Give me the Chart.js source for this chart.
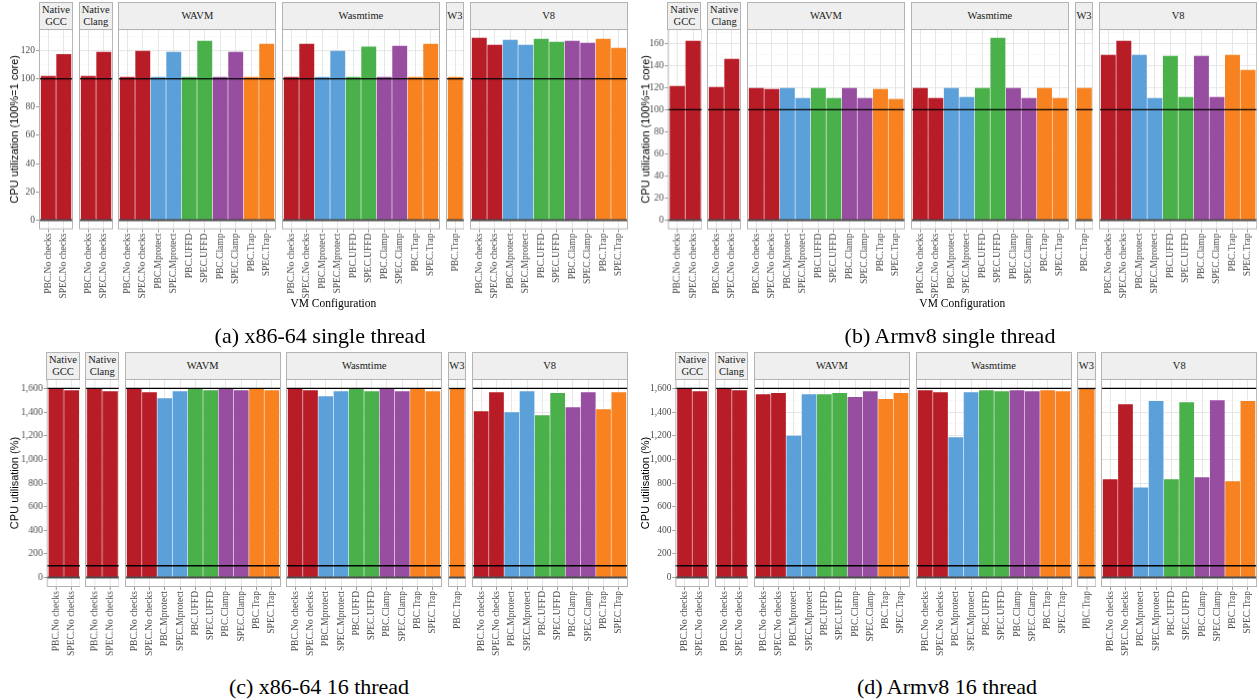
<!DOCTYPE html>
<html>
<head>
<meta charset="utf-8">
<script src="https://cdn.jsdelivr.net/npm/chart.js@4.4.1/dist/chart.umd.min.js"></script>
<style>
  body { margin: 0; background: #fff; width: 1259px; height: 700px; position: relative; overflow: hidden; font-family: "Liberation Serif", serif; }
  .strip { position: absolute; box-sizing: border-box; border: 1px solid #b3b3b3; background: #eeefee; color: #1a1a1a; font-size: 10.5px; line-height: 12px; display: flex; align-items: center; justify-content: center; text-align: center; white-space: pre; }
  .plot { position: absolute; }
  .label { position: absolute; transform: translate(-50%, -50%); white-space: nowrap; color: #000; }
  .caption { font-size: 22px; }
  .xtitle { font-size: 11.5px; }
</style>
</head>
<body>
<script>
const Chart = window.Chart;

// ======================
// CATEGORIES
// ======================

const vmConfigs = ["PBC.No checks", "SPEC.No checks", "PBC.Mprotect", "SPEC.Mprotect", "PBC.UFFD", "SPEC.UFFD", "PBC.Clamp", "SPEC.Clamp", "PBC.Trap", "SPEC.Trap"];
const nativeConfigs = ["PBC.No checks", "SPEC.No checks"];
const w3Configs = ["PBC.Trap"];

const facetNames = ["Native\nGCC", "Native\nClang", "WAVM", "Wasmtime", "W3", "V8"];
const facetConfigs = [nativeConfigs, nativeConfigs, vmConfigs, vmConfigs, w3Configs, vmConfigs];

const mechanisms = ["No checks", "Mprotect", "UFFD", "Clamp", "Trap"];
const mechanismColors = ["#b71c27", "#5ca0d9", "#4ab04a", "#984ea0", "#f7821f"];

// ======================
// (a) x86-64 single thread
// ======================
const x86SingleGCC = [101.9, 117.3];
const x86SingleClang = [101.9, 118.9];
const x86SingleWAVM = [101.2, 119.6, 101.2, 118.9, 101.2, 126.7, 101.2, 118.9, 101.2, 124.6];
const x86SingleWasmtime = [101.2, 124.6, 101.2, 119.6, 101.2, 122.5, 101.2, 123.2, 101.2, 124.6];
const x86SingleW3 = [101.2];
const x86SingleV8 = [128.8, 123.9, 127.4, 123.9, 128.1, 126.0, 126.7, 125.3, 128.1, 121.7];

// ======================
// (b) Armv8 single thread
// ======================
const armSingleGCC = [121.1, 161.9];
const armSingleClang = [120.2, 145.6];
const armSingleWAVM = [119.3, 118.4, 119.3, 110.3, 119.3, 110.3, 119.3, 110.3, 118.4, 109.4];
const armSingleWasmtime = [119.3, 110.3, 119.3, 111.2, 119.3, 164.7, 119.3, 110.3, 119.3, 110.3];
const armSingleW3 = [119.3];
const armSingleV8 = [149.2, 161.9, 149.2, 110.3, 148.3, 111.2, 148.3, 111.2, 149.2, 135.6];

// ======================
// (c) x86-64 16 thread
// ======================
const x86MultiGCC = [1600, 1583];
const x86MultiClang = [1600, 1574];
const x86MultiWAVM = [1600, 1566, 1515, 1574, 1600, 1583, 1600, 1583, 1600, 1583];
const x86MultiWasmtime = [1600, 1583, 1532, 1574, 1600, 1574, 1600, 1574, 1600, 1574];
const x86MultiW3 = [1600];
const x86MultiV8 = [1405, 1566, 1396, 1574, 1371, 1558, 1439, 1566, 1422, 1566];

// ======================
// (d) Armv8 16 thread
// ======================
const armMultiGCC = [1600, 1574];
const armMultiClang = [1600, 1583];
const armMultiWAVM = [1549, 1558, 1196, 1549, 1549, 1558, 1524, 1574, 1507, 1558];
const armMultiWasmtime = [1583, 1566, 1184, 1566, 1583, 1574, 1583, 1574, 1583, 1574];
const armMultiW3 = [1592];
const armMultiV8 = [828, 1464, 760, 1490, 828, 1481, 845, 1498, 811, 1490];

// reference lines and tick steps
const singleRefLines = [100];
const multiRefLines = [100, 1600];
const singleSteps = [20, 10];   // major, minor
const multiSteps = [200, 100];

// ======================
// PANEL LAYOUT
// ======================
const panels = [
  { caption: "(a) x86-64 single thread", values: [x86SingleGCC, x86SingleClang, x86SingleWAVM, x86SingleWasmtime, x86SingleW3, x86SingleV8],
    refLines: singleRefLines, steps: singleSteps, yTitle: "CPU utilization (100%=1 core)", xTitle: "VM Configuration",
    axisLeft: 0, left: 39, right: 627.7, stripTop: 1.5, plotTop: 29.3, plotBottom: 228.9, titlePad: 8.4,
    captionX: 320, captionY: 336, xTitleY: 303 },
  { caption: "(b) Armv8 single thread", values: [armSingleGCC, armSingleClang, armSingleWAVM, armSingleWasmtime, armSingleW3, armSingleV8],
    refLines: singleRefLines, steps: singleSteps, yTitle: "CPU utilization (100%=1 core)", xTitle: "VM Configuration",
    axisLeft: 630, left: 667.3, right: 1257.3, stripTop: 1.5, plotTop: 29.3, plotBottom: 228.9, titlePad: 9.4,
    captionX: 950, captionY: 336, xTitleY: 303 },
  { caption: "(c) x86-64 16 thread", values: [x86MultiGCC, x86MultiClang, x86MultiWAVM, x86MultiWasmtime, x86MultiW3, x86MultiV8],
    refLines: multiRefLines, steps: multiSteps, yTitle: "CPU utilisation (%)", xTitle: null,
    axisLeft: 0, left: 46.2, right: 627.7, stripTop: 352, plotTop: 379.3, plotBottom: 587.3, titlePad: 8.4,
    captionX: 319, captionY: 687 },
  { caption: "(d) Armv8 16 thread", values: [armMultiGCC, armMultiClang, armMultiWAVM, armMultiWasmtime, armMultiW3, armMultiV8],
    refLines: multiRefLines, steps: multiSteps, yTitle: "CPU utilisation (%)", xTitle: null,
    axisLeft: 630, left: 675.4, right: 1257.3, stripTop: 352, plotTop: 379.3, plotBottom: 587.3, titlePad: 9.4,
    captionX: 947, captionY: 687 }
];

const FACET_GAP = 5.6;
const LABEL_AREA = 80;

Chart.defaults.font.family = "'Liberation Serif', serif";

// ======================
// DECORATION PLUGIN
// ======================
const facetDecor = {
  id: "facetDecor",
  afterDatasetsDraw(chart, args, opts) {
    const { ctx, chartArea: a, scales: { y } } = chart;
    ctx.save();
    // zero line
    const y0 = y.getPixelForValue(0);
    ctx.strokeStyle = "#4d4d4d";
    ctx.lineWidth = 2;
    ctx.beginPath();
    ctx.moveTo(a.left, y0);
    ctx.lineTo(a.right, y0);
    ctx.stroke();
    // reference lines
    ctx.strokeStyle = "#000";
    ctx.lineWidth = 1.3;
    opts.refLines.forEach(v => {
      const py = y.getPixelForValue(v);
      ctx.beginPath();
      ctx.moveTo(a.left, py);
      ctx.lineTo(a.right, py);
      ctx.stroke();
    });
    // panel border
    ctx.strokeStyle = "#b3b3b3";
    ctx.lineWidth = 1;
    ctx.strokeRect(a.left + 0.5, a.top + 0.5, a.width - 1, a.height - 1);
    ctx.restore();
  }
};

function colorFor(config) {
  const mech = config.split(".")[1];
  return mechanismColors[mechanisms.indexOf(mech)];
}

function addText(cls, text, x, y) {
  const el = document.createElement("div");
  el.className = "label " + cls;
  el.textContent = text;
  el.style.left = x + "px";
  el.style.top = y + "px";
  document.body.appendChild(el);
}

// ======================
// BUILD ONE FACET
// ======================
function makeFacet(p, f, box, yMin, yMax) {
  const labels = facetConfigs[f];
  const values = p.values[f];
  const first = f === 0;
  const [major, minor] = p.steps;
  const axisW = first ? box.left - p.axisLeft : 0;

  // strip
  const strip = document.createElement("div");
  strip.className = "strip";
  strip.textContent = facetNames[f];
  strip.style.left = box.left + "px";
  strip.style.width = box.width + "px";
  strip.style.top = p.stripTop + "px";
  strip.style.height = (p.plotTop - p.stripTop + 1) + "px";
  document.body.appendChild(strip);

  // chart container
  const wrap = document.createElement("div");
  wrap.className = "plot";
  wrap.style.left = (box.left - axisW) + "px";
  wrap.style.top = p.plotTop + "px";
  wrap.style.width = (box.width + axisW) + "px";
  wrap.style.height = (p.plotBottom - p.plotTop + LABEL_AREA) + "px";
  const canvas = document.createElement("canvas");
  wrap.appendChild(canvas);
  document.body.appendChild(wrap);

  const isMajor = v => Math.abs(v % major) < 1e-6;

  new Chart(canvas.getContext("2d"), {
    type: "bar",
    data: {
      datasets: [{
        data: values.map((v, i) => ({ x: i, y: v })),
        backgroundColor: labels.map(colorFor),
        barThickness: box.unit * 0.92
      }]
    },
    options: {
      responsive: true,
      maintainAspectRatio: false,
      animation: false,
      devicePixelRatio: 1,
      layout: { padding: 0 },
      plugins: {
        legend: { display: false },
        tooltip: { enabled: false },
        facetDecor: { refLines: p.refLines }
      },
      scales: {
        x: {
          type: "linear",
          offset: false,
          bounds: "data",
          min: -0.6,
          max: labels.length - 0.4,
          afterBuildTicks: s => { s.ticks = labels.map((_, i) => ({ value: i })); },
          afterFit: s => { s.height = LABEL_AREA; s.paddingLeft = 0; s.paddingRight = 0; },
          ticks: {
            autoSkip: false,
            minRotation: 90,
            maxRotation: 90,
            padding: 1,
            color: "#4d4d4d",
            font: { size: 9.5 },
            callback: v => labels[v]
          },
          grid: { offset: false, color: "#e6e6e6", lineWidth: 1, tickLength: 3, tickColor: "#999" },
          border: { display: false }
        },
        y: {
          bounds: "data",
          min: yMin,
          max: yMax,
          afterBuildTicks: s => {
            const t = [];
            for (let v = 0; v <= yMax; v += minor) t.push({ value: v });
            s.ticks = t;
          },
          afterFit: s => { s.width = axisW; s.paddingTop = 0; s.paddingBottom = 0; },
          ticks: {
            display: first,
            padding: 1,
            color: "#4d4d4d",
            font: { size: 9.5 },
            callback: v => isMajor(v) ? v.toLocaleString("en-US") : ""
          },
          grid: {
            color: c => isMajor(c.tick.value) ? "#e6e6e6" : "#f3f3f3",
            lineWidth: c => isMajor(c.tick.value) ? 1 : 0.6,
            tickLength: 3,
            tickColor: c => (first && isMajor(c.tick.value)) ? "#999" : "rgba(0,0,0,0)"
          },
          border: { display: false },
          title: {
            display: first,
            text: p.yTitle,
            color: "#000",
            font: { family: "'Liberation Sans', sans-serif", size: 11 },
            padding: { top: p.titlePad, bottom: 0 }
          }
        }
      }
    },
    plugins: [facetDecor]
  });
}

// ======================
// BUILD PANELS
// ======================
panels.forEach(p => {
  const all = p.values.flat();
  const top = Math.max(...all);
  const yMin = -0.05 * top;
  const yMax = top * 1.05;

  const units = facetConfigs.map(c => c.length + 0.2);
  const totalUnits = units.reduce((s, u) => s + u, 0);
  const unit = (p.right - p.left - FACET_GAP * (units.length - 1)) / totalUnits;

  let x = p.left;
  units.forEach((u, f) => {
    const box = { left: x, width: u * unit, unit };
    makeFacet(p, f, box, yMin, yMax);
    x += u * unit + FACET_GAP;
  });

  if (p.xTitle) addText("xtitle", p.xTitle, (p.left + p.right) / 2, p.xTitleY);
  addText("caption", p.caption, p.captionX, p.captionY);
});
</script>
</body>
</html>
